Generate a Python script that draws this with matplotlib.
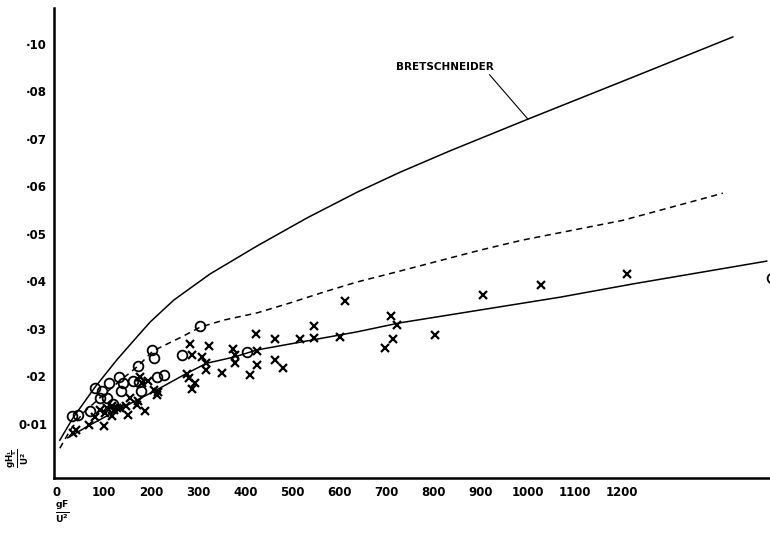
import matplotlib
matplotlib.use("Agg")
import matplotlib.pyplot as plt

plt.rcParams['font.family'] = ['DejaVu Sans']
plt.rcParams['mathtext.default'] = 'bf'

# curves (gF/U^2, gH/U^2)
bret_x = [6, 34, 81, 127, 164, 198, 248, 325, 425, 531, 637, 728, 834, 1000, 1217, 1435]
bret_y = [0.0065, 0.0112, 0.0177, 0.0234, 0.0276, 0.0314, 0.0360, 0.0415,
          0.0474, 0.0533, 0.0587, 0.0629, 0.0674, 0.0741, 0.0827, 0.0914]

dash_x = [6, 28, 55, 91, 130, 172, 204, 268, 304, 355, 425, 495, 567, 637,
          728, 898, 987, 1202, 1414]
dash_y = [0.0048, 0.0086, 0.0122, 0.0154, 0.0187, 0.0221, 0.0253, 0.0284,
          0.0303, 0.0318, 0.0333, 0.0354, 0.0377, 0.0398, 0.0421, 0.0465,
          0.0486, 0.0528, 0.0585]

low_x = [23, 70, 142, 212, 276, 318, 376, 425, 531, 637, 728, 898, 1068, 1223, 1507]
low_y = [0.0070, 0.0097, 0.0135, 0.0171, 0.0206, 0.0227, 0.0240, 0.0255,
         0.0274, 0.0293, 0.0312, 0.0339, 0.0366, 0.0394, 0.0442]

# crosses
cross_x = [35, 40, 67, 81, 91, 99, 102, 106, 116, 121, 127, 134, 146, 151, 156,
           170, 173, 187, 176, 180, 194, 207, 215, 212, 117,
           275, 280, 286, 293, 282, 286, 307, 323, 317, 316, 350, 374, 378, 378,
           422, 424, 424, 409, 463, 463, 480, 516, 545, 545, 601, 611,
           710, 723, 713, 697, 802, 905, 1028, 1210]
cross_y = [0.0080, 0.0086, 0.0097, 0.0114, 0.0128, 0.0094, 0.0122, 0.0133,
           0.0115, 0.0128, 0.0133, 0.0133, 0.0137, 0.0118, 0.0153, 0.0139,
           0.0147, 0.0126, 0.0198, 0.0185, 0.0189, 0.0171, 0.0167, 0.0160,
           0.0137,
           0.0205, 0.0196, 0.0173, 0.0186, 0.0268, 0.0244, 0.0240, 0.0263,
           0.0227, 0.0213, 0.0207, 0.0257, 0.0244, 0.0227, 0.0288, 0.0252,
           0.0223, 0.0202, 0.0279, 0.0233, 0.0216, 0.0279, 0.0305, 0.0280,
           0.0283, 0.0357,
           0.0327, 0.0307, 0.0279, 0.0260, 0.0287, 0.0371, 0.0391, 0.0415]

# circles
circ_x = [31, 44, 69, 81, 95, 110, 132, 141, 91, 106, 118, 136, 161, 174, 178,
          173, 201, 205, 212, 228, 265, 304, 403, 1518]
circ_y = [0.0116, 0.0119, 0.0126, 0.0175, 0.0169, 0.0185, 0.0197, 0.0186,
          0.0154, 0.0153, 0.0141, 0.0169, 0.0190, 0.0188, 0.0169, 0.0222,
          0.0255, 0.0237, 0.0199, 0.0202, 0.0244, 0.0306, 0.0251, 0.0406]
small_circ_x = [379]
small_circ_y = [0.0237]

xticks = [0, 100, 200, 300, 400, 500, 600, 700, 800, 900, 1000, 1100, 1200]
yticks = [0.01, 0.02, 0.03, 0.04, 0.05, 0.06, 0.07, 0.08, 0.09]
ytick_labels = ['0·01', '·02', '·03', '·04', '·05', '·06', '·07', '·08', '·10']

fig = plt.figure(figsize=(7.7, 5.36), dpi=100)
ax = fig.add_axes([54 / 770, 1 - 478 / 536, 1 - 54 / 770, 470 / 536])

ax.plot(bret_x, bret_y, color='black', lw=1.1)
ax.plot(dash_x, dash_y, color='black', lw=1.1, linestyle=(0, (4, 3)))
ax.plot(low_x, low_y, color='black', lw=1.1)

ax.plot(cross_x, cross_y, 'x', color='black', ms=6, mew=1.6)
ax.plot(circ_x, circ_y, 'o', mfc='none', mec='black', ms=7, mew=1.3)
ax.plot(small_circ_x, small_circ_y, 'o', mfc='none', mec='black', ms=4, mew=1.1)

ax.annotate('BRETSCHNEIDER', xy=(1000, 0.0741), xytext=(824, 0.0851),
            ha='center', va='center', fontsize=7.5, fontweight='bold',
            arrowprops=dict(arrowstyle='-', lw=0.8, color='black',
                            relpos=(0.93, 0.0), shrinkA=0, shrinkB=0))

ax.set_xlim(-6.4, 1514)
ax.set_ylim(-0.00147, 0.0975)
ax.set_xticks(xticks)
ax.set_xticklabels([str(t) for t in xticks], fontsize=8.5, fontweight='bold')
ax.set_yticks(yticks)
ax.set_yticklabels(ytick_labels, fontsize=8.5, fontweight='bold')
ax.tick_params(length=0)
ax.tick_params(axis='x', pad=6)
ax.tick_params(axis='y', pad=5)

for side in ['top', 'right']:
    ax.spines[side].set_visible(False)
for side in ['left', 'bottom']:
    ax.spines[side].set_linewidth(1.8)

fig.text(18 / 770, 1 - 458 / 536, r'$\frac{gH_{\frac{1}{3}}}{U^2}$', rotation=90,
         ha='center', va='center', fontsize=9)
fig.text(55 / 770, 1 - 512 / 536, r'$\frac{gF}{U^2}$',
         ha='left', va='center', fontsize=9.5)

fig.savefig('out.png', dpi=100)
